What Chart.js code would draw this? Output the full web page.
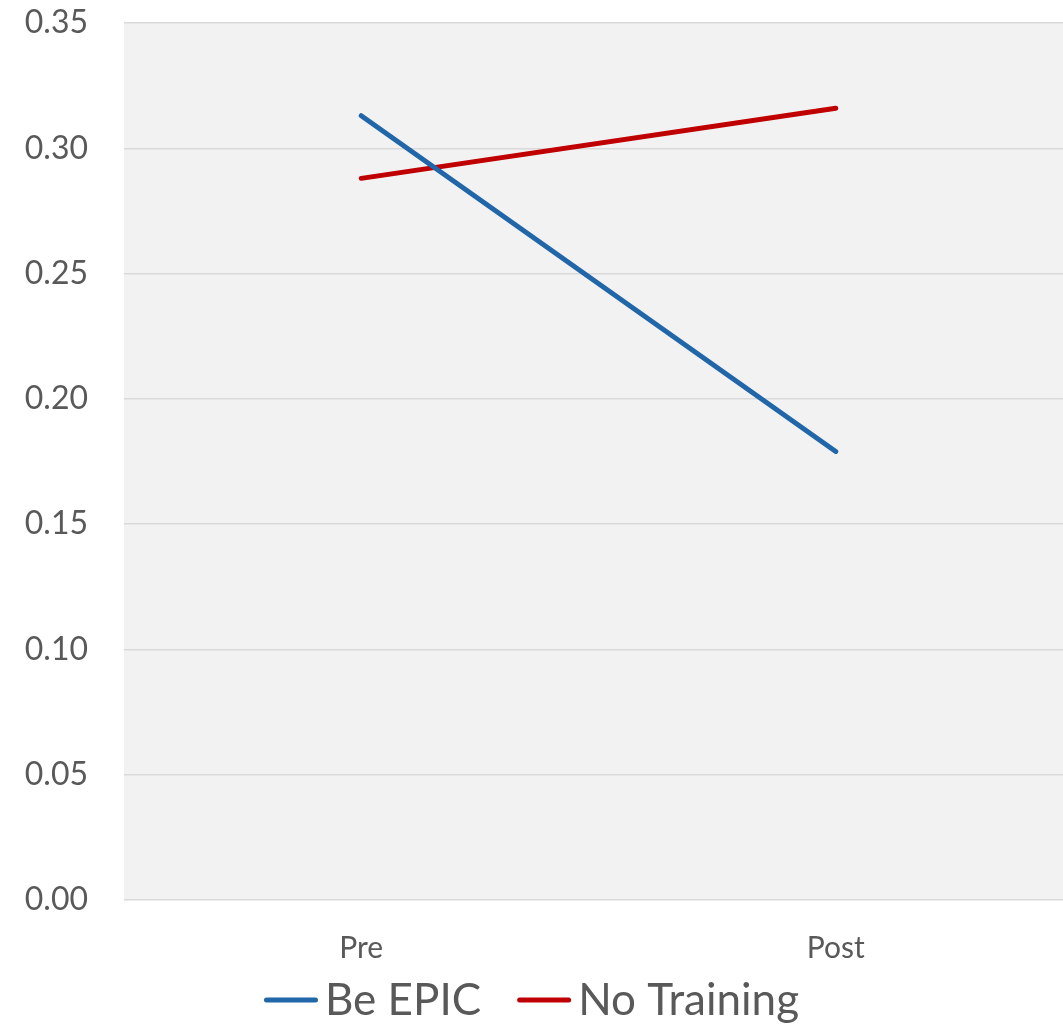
<!DOCTYPE html>
<html>
<head>
<meta charset="utf-8">
<script src="https://cdn.jsdelivr.net/npm/chart.js@4.4.1/dist/chart.umd.min.js"></script>
<style>
  html, body { margin: 0; padding: 0; background: #ffffff; overflow: hidden; }
  #wrap { width: 1073px; height: 1024px; position: relative; }
</style>
</head>
<body>
<div id="wrap"><canvas id="c"></canvas></div>
<script>
// Categories and series
const categories = ['Pre', 'Post'];
const seriesNames = ['Be EPIC', 'No Training'];
const beEpicValues = [0.313, 0.179];
const noTrainingValues = [0.288, 0.316];
const seriesColors = ['#2166A8', '#C00000'];
const yTicks = { min: 0, max: 0.35, step: 0.05 };

const FONT = 'Lato, "Open Sans", "DejaVu Sans", sans-serif';
const TEXT_COLOR = '#595959';

// Grey plot-area fill behind everything
const plotBackground = {
  id: 'plotBackground',
  beforeDraw(chart) {
    const { ctx, chartArea: a } = chart;
    ctx.save();
    ctx.fillStyle = '#F2F2F2';
    ctx.fillRect(a.left, a.top, a.right - a.left, a.bottom - a.top);
    ctx.restore();
  }
};

// Legend along the bottom: short line swatch followed by the series name
const bottomLegend = {
  id: 'bottomLegend',
  afterDraw(chart) {
    const ctx = chart.ctx;
    const fontSize = 44;
    const lineLen = 54, lineGap = 7, itemGap = 36;
    const baseline = 1015, lineY = 1000;
    ctx.save();
    ctx.font = fontSize + 'px ' + FONT;
    const items = chart.data.datasets.map(ds => ({
      label: ds.label, color: ds.borderColor, w: ctx.measureText(ds.label).width
    }));
    let total = 0;
    items.forEach((it, i) => { total += lineLen + lineGap + it.w + (i < items.length - 1 ? itemGap : 0); });
    let x = 1063 / 2 - total / 2;
    items.forEach(it => {
      ctx.strokeStyle = it.color;
      ctx.lineWidth = 5;
      ctx.lineCap = 'round';
      ctx.beginPath();
      ctx.moveTo(x + 2.5, lineY);
      ctx.lineTo(x + lineLen - 2.5, lineY);
      ctx.stroke();
      x += lineLen + lineGap;
      ctx.fillStyle = TEXT_COLOR;
      ctx.textBaseline = 'alphabetic';
      ctx.textAlign = 'left';
      ctx.fillText(it.label, x, baseline);
      x += it.w + itemGap;
    });
    ctx.restore();
  }
};

new Chart(document.getElementById('c'), {
  type: 'line',
  data: {
    labels: categories,
    datasets: [
      { label: seriesNames[0], data: beEpicValues, borderColor: seriesColors[0] },
      { label: seriesNames[1], data: noTrainingValues, borderColor: seriesColors[1] }
    ].map(ds => Object.assign(ds, {
      borderWidth: 5, borderCapStyle: 'round', pointRadius: 0, pointHoverRadius: 0,
      tension: 0, fill: false
    }))
  },
  options: {
    responsive: true,
    maintainAspectRatio: false,
    animation: false,
    events: [],
    layout: { padding: { top: 23, right: 0, bottom: 0, left: 0 } },
    plugins: { legend: { display: false }, tooltip: { enabled: false } },
    scales: {
      x: {
        type: 'category',
        offset: true,
        grid: { display: false, drawTicks: false },
        border: { display: false },
        ticks: { color: TEXT_COLOR, font: { family: FONT, size: 30 }, padding: 30 },
        afterFit(scale) { scale.height = 124; scale.paddingLeft = 0; scale.paddingRight = 0; }
      },
      y: {
        min: yTicks.min, max: yTicks.max,
        grid: { color: '#D9D9D9', lineWidth: 1.5, drawTicks: false },
        border: { display: false },
        ticks: {
          stepSize: yTicks.step, color: TEXT_COLOR, padding: 36,
          font: { family: FONT, size: 32 },
          callback: v => v.toFixed(2)
        },
        afterFit(scale) { scale.width = 124; scale.paddingTop = 0; scale.paddingBottom = 0; }
      }
    }
  },
  plugins: [plotBackground, bottomLegend]
});
</script>
</body>
</html>
